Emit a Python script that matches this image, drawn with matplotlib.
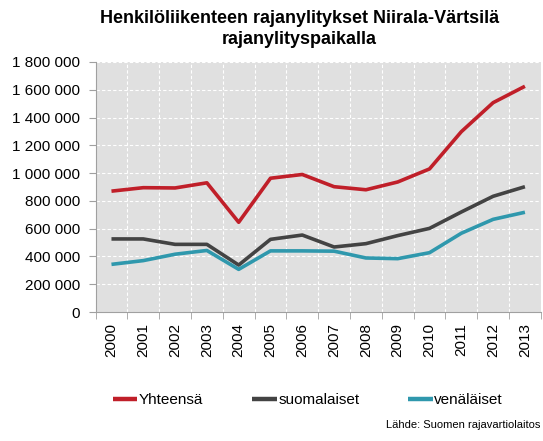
import matplotlib.pyplot as plt
import matplotlib.ticker as mticker
import numpy as np

plt.rcParams['font.family'] = ['Liberation Sans', 'DejaVu Sans']

years = ['2000', '2001', '2002', '2003', '2004', '2005', '2006',
         '2007', '2008', '2009', '2010', '2011', '2012', '2013']
yhteensa = [870000, 895000, 893000, 930000, 646000, 963000, 990000,
            902000, 880000, 936000, 1030000, 1298000, 1507000, 1625000]
suomalaiset = [526000, 526000, 487000, 487000, 338000, 523000, 554000,
               468000, 492000, 550000, 602000, 720000, 833000, 902000]
venalaiset = [343000, 370000, 416000, 443000, 307000, 440000, 440000,
              438000, 389000, 384000, 427000, 567000, 667000, 718000]

fig = plt.figure(figsize=(5.43, 4.41), dpi=100)
ax = fig.add_axes([0.176, 0.2925, 0.82, 0.567])
ax.set_facecolor('#e0e0e0')

x = np.arange(len(years))
ax.plot(x, yhteensa, color='#c01f29', lw=2.6, label='Yhteensä', solid_capstyle='butt')
ax.plot(x, suomalaiset, color='#434343', lw=2.6, label='suomalaiset', solid_capstyle='butt')
ax.plot(x, venalaiset, color='#2f98ad', lw=2.6, label='venäläiset', solid_capstyle='butt')

ax.set_xlim(-0.5, len(years) - 0.5)
ax.set_ylim(0, 1800000)
ax.set_yticks(np.arange(0, 1800001, 200000))
ax.yaxis.set_major_formatter(mticker.FuncFormatter(lambda v, p: f'{int(v):,}'.replace(',', ' ')))

ax.set_xticks(x)
ax.set_xticklabels(years, rotation=90)
ax.set_xticks(np.arange(-0.5, len(years)), minor=True)
ax.tick_params(axis='x', which='major', length=0, pad=8, labelsize=11)
ax.tick_params(axis='x', which='minor', length=5, color='#a0a0a0')
ax.tick_params(axis='y', length=5, color='#a0a0a0', labelsize=11, pad=6)

ax.grid(axis='y', which='major', color='white', ls=(0, (3, 2)), lw=0.8)
ax.grid(axis='x', which='minor', color='white', ls=(0, (3, 2)), lw=0.8)
ax.set_axisbelow(True)

for s in ['top', 'right']:
    ax.spines[s].set_visible(False)
for s in ['left', 'bottom']:
    ax.spines[s].set_color('#a0a0a0')

fig.text(0.552, 0.934, 'Henkilöliikenteen rajanylitykset Niirala-Värtsilä\nrajanylityspaikalla',
         ha='center', va='center', fontsize=13, fontweight='bold', linespacing=1.25)

leg = fig.legend(loc='center', bbox_to_anchor=(0.567, 0.093), ncol=3, frameon=False,
                 handlelength=1.6, handletextpad=0.1, columnspacing=3.2, fontsize=11)
for line in leg.get_lines():
    line.set_linewidth(3.2)

fig.text(0.995, 0.036, 'Lähde: Suomen rajavartiolaitos', ha='right', va='center', fontsize=8)

fig.savefig('out.png', dpi=100)
